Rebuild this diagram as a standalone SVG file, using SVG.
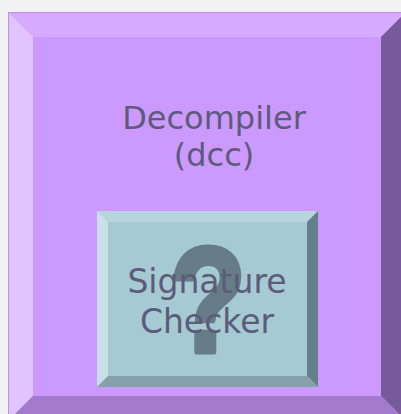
<svg xmlns="http://www.w3.org/2000/svg" width="401" height="414" viewBox="0 0 401 414">
  <style>
    .label { font-family: "DejaVu Sans", "Liberation Sans", sans-serif; fill: #5C5C7A; text-anchor: middle; }
    .mark { font-family: "Liberation Sans", "Arial", sans-serif; font-weight: bold; fill: #667C86; stroke: #667C86; stroke-width: 5; stroke-linejoin: round; text-anchor: middle; }
  </style>
  <rect x="0" y="0" width="401" height="414" fill="#F2F2F2"/>

  <!-- Decompiler block: bevelled purple box -->
  <g id="decompiler">
    <rect x="8" y="12" width="398" height="409" fill="#CC99FF"/>
    <polygon points="8,12 406,12 381,37 33,37" fill="#D6ABFF"/>
    <polygon points="8,12 33,37 33,396 8,421" fill="#E0C3FF"/>
    <polygon points="406,12 406,421 381,396 381,37" fill="#775A99"/>
    <polygon points="8,421 33,396 381,396 406,421" fill="#A37ACC"/>
    <rect x="8.5" y="12.5" width="397" height="408" fill="none" stroke="#C28EF5" stroke-width="1"/>
    <text class="label" x="214" y="129" font-size="32">Decompiler</text>
    <text class="label" x="214" y="166" font-size="32">(dcc)</text>
  </g>

  <!-- Signature checker: bevelled blue box inside the decompiler -->
  <g id="signature-checker">
    <rect x="97" y="211" width="221" height="176" fill="#A6CAD4"/>
    <polygon points="97,211 318,211 307,222 108,222" fill="#B6D5DD"/>
    <polygon points="97,211 108,222 108,376 97,387" fill="#C9E0E8"/>
    <polygon points="318,211 318,387 307,376 307,222" fill="#66808B"/>
    <polygon points="97,387 108,376 307,376 318,387" fill="#86A1AA"/>
    <text class="mark" x="208" y="352" font-size="150" transform="translate(208 0) scale(0.84 1) translate(-208 0)">?</text>
    <text class="label" x="207" y="293" font-size="33">Signature</text>
    <text class="label" x="207" y="333" font-size="33">Checker</text>
  </g>
</svg>
